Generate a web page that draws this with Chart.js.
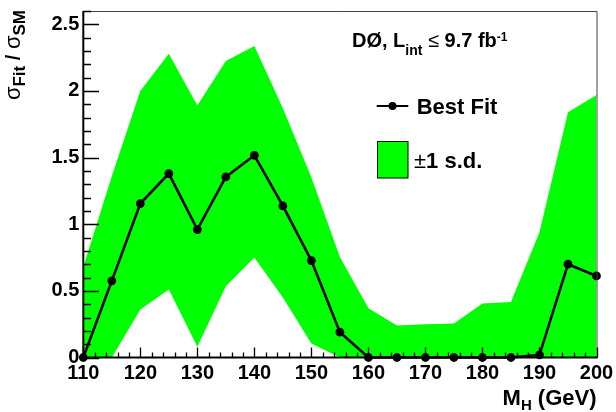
<!DOCTYPE html>
<html><head><meta charset="utf-8">
<script src="https://cdn.jsdelivr.net/npm/chart.js@4/dist/chart.umd.min.js"></script>
<style>html,body{margin:0;padding:0;background:#fff;overflow:hidden}#wrap{width:616px;height:412px;position:relative}</style>
</head><body><div id="wrap"><canvas id="c" width="616" height="412"></canvas></div>
<script>
// ---- data ----
const massPoints = [110,115,120,125,130,135,140,145,150,155,160,165,170,175,180,185,190,195,200];
const bestFit    = [0,0.575,1.155,1.38,0.96,1.355,1.517,1.137,0.727,0.19,0,0,0,0,0,0,0.02,0.70,0.612];
const bandUpper  = [0.68,1.36,2.0,2.28,1.89,2.225,2.337,1.87,1.35,0.755,0.37,0.24,0.25,0.255,0.405,0.417,0.94,1.84,1.97];
const bandLower  = [0,0,0.36,0.51,0.08,0.535,0.75,0.45,0.105,0,0,0,0,0,0,0,0,0,0];
const yTickValues = [0,0.5,1,1.5,2,2.5];
const xTickValues = [110,120,130,140,150,160,170,180,190,200];
const legendLabels = ['Best Fit','\u00b11 s.d.'];

const GREEN = '#00ff00';
const FONT = '"Liberation Sans", Arial, Helvetica, sans-serif';

const pts = a => massPoints.map((x,i)=>({x, y:a[i]}));

function richWidth(ctx, parts){
  let w=0;
  for(const p of parts){ctx.font=(p.weight||'bold')+' '+p.size+'px '+FONT; w+=ctx.measureText(p.t).width;}
  return w;
}
function drawRich(ctx, parts, x, y){
  ctx.textBaseline='alphabetic'; ctx.textAlign='left';
  for(const p of parts){
    ctx.font=(p.weight||'bold')+' '+p.size+'px '+FONT;
    ctx.fillText(p.t, x, y+(p.dy||0));
    x+=ctx.measureText(p.t).width;
  }
}

const decor = {
  id:'decor',
  afterDatasetsDraw(chart){
    const {ctx, chartArea:a, scales:{x, y}} = chart;
    ctx.save();
    // frame top/right
    ctx.strokeStyle='#444'; ctx.lineWidth=1;
    ctx.beginPath();
    ctx.moveTo(a.left, a.top+0.5); ctx.lineTo(a.right+0.5, a.top+0.5); ctx.lineTo(a.right+0.5, a.bottom);
    ctx.stroke();
    // axes
    ctx.strokeStyle='#000'; ctx.lineWidth=2;
    ctx.beginPath();
    ctx.moveTo(a.left, a.top); ctx.lineTo(a.left, a.bottom); ctx.lineTo(a.right+1, a.bottom);
    ctx.stroke();
    // y ticks
    ctx.lineWidth=1.3;
    ctx.beginPath();
    for(let i=0;i<=26;i++){
      const v=i/10, py=Math.round(y.getPixelForValue(v))+0.5;
      const len = (i%5===0)?15.7:7.7;
      ctx.moveTo(a.left, py); ctx.lineTo(a.left+len, py);
    }
    // x ticks
    for(let m=110;m<=200;m+=2){
      const px=Math.round(x.getPixelForValue(m))+0.5;
      const len = (m%10===0)?10:5;
      ctx.moveTo(px, a.bottom); ctx.lineTo(px, a.bottom-len);
    }
    ctx.stroke();
    ctx.restore();
  },
  afterDraw(chart){
    const {ctx, chartArea:a} = chart;
    ctx.save();
    ctx.fillStyle='#000';
    // y title (rotated)
    const yt=[{t:'\u03c3',size:22,weight:'normal'},{t:'Fit',size:17,dy:5},{t:' / ',size:20},{t:'\u03c3',size:22,weight:'normal'},{t:'SM',size:17,dy:5}];
    const L=richWidth(ctx,yt);
    ctx.translate(20, 10+L);
    ctx.rotate(-Math.PI/2);
    drawRich(ctx, yt, 0, 0);
    ctx.setTransform(1,0,0,1,0,0);
    // x title
    const xt=[{t:'M',size:22},{t:'H',size:15,dy:5},{t:' (GeV)',size:22}];
    const W=richWidth(ctx,xt);
    drawRich(ctx, xt, a.right - W, 405);
    // annotation
    drawRich(ctx,[{t:'D\u00d8, L',size:20},{t:'int',size:14,dy:8},{t:' \u2264 ',size:20,weight:'normal'},{t:'9.7 fb',size:20},{t:'-1',size:12,dy:-6}], 352, 46.7);
    // legend
    const bf = chart.data.datasets[0], band = chart.data.datasets[1];
    ctx.strokeStyle=bf.borderColor; ctx.lineWidth=2.2;
    ctx.beginPath(); ctx.moveTo(376.7,106); ctx.lineTo(408.3,106); ctx.stroke();
    ctx.fillStyle=bf.pointBackgroundColor;
    ctx.beginPath(); ctx.arc(392.5,106,4,0,Math.PI*2); ctx.fill();
    ctx.fillStyle='#000';
    drawRich(ctx,[{t:legendLabels[0],size:22}], 416.7, 113.5);
    ctx.fillStyle=band.backgroundColor;
    ctx.fillRect(377,141,31,37);
    ctx.strokeStyle='#000'; ctx.lineWidth=1;
    ctx.strokeRect(377.5,141.5,30.5,36.5);
    ctx.fillStyle='#000';
    drawRich(ctx,[{t:'\u00b1',size:22,weight:'normal'},{t:'1 s.d.',size:22}], 414, 168);
    ctx.restore();
  }
};

new Chart(document.getElementById('c'), {
  type:'line',
  data:{
    datasets:[
      {label:legendLabels[0], data:pts(bestFit), borderColor:'#000', backgroundColor:'#000',
       pointBackgroundColor:'#000', pointBorderColor:'#000', borderWidth:2.6, pointRadius:4.4,
       pointBorderWidth:0, tension:0, fill:false, clip:false},
      {label:legendLabels[1], data:pts(bandUpper), borderWidth:0, pointRadius:0, borderColor:GREEN,
       backgroundColor:GREEN, fill:'+1', tension:0},
      {label:'lower', data:pts(bandLower), borderWidth:0, pointRadius:0, borderColor:GREEN,
       backgroundColor:GREEN, fill:false, tension:0}
    ]
  },
  options:{
    responsive:false, animation:false, devicePixelRatio:1,
    layout:{padding:{top:11, right:19.5, left:0, bottom:0}},
    plugins:{legend:{display:false}, tooltip:{enabled:false}},
    scales:{
      x:{type:'linear', min:110, max:200,
         afterBuildTicks: s => { s.ticks = xTickValues.map(v=>({value:v})); },
         afterFit: s => { s.height = 54.5; s.paddingLeft = 0; s.paddingRight = 0; },
         grid:{display:false, drawTicks:false}, border:{display:false},
         ticks:{color:'#000', padding:3.5, maxRotation:0, autoSkip:false,
                font:{family:FONT, weight:'bold', size:20}, callback:v=>String(v)}},
      y:{type:'linear', min:0, max:2.6,
         afterBuildTicks: s => { s.ticks = yTickValues.map(v=>({value:v})); },
         afterFit: s => { s.width = 83.3; s.paddingTop = 0; s.paddingBottom = 0; },
         grid:{display:false, drawTicks:false}, border:{display:false},
         ticks:{color:'#000', padding:4, font:{family:FONT, weight:'bold', size:20},
                callback:v=>String(Math.round(v*10)/10)}}
    }
  },
  plugins:[decor]
});
</script></body></html>
